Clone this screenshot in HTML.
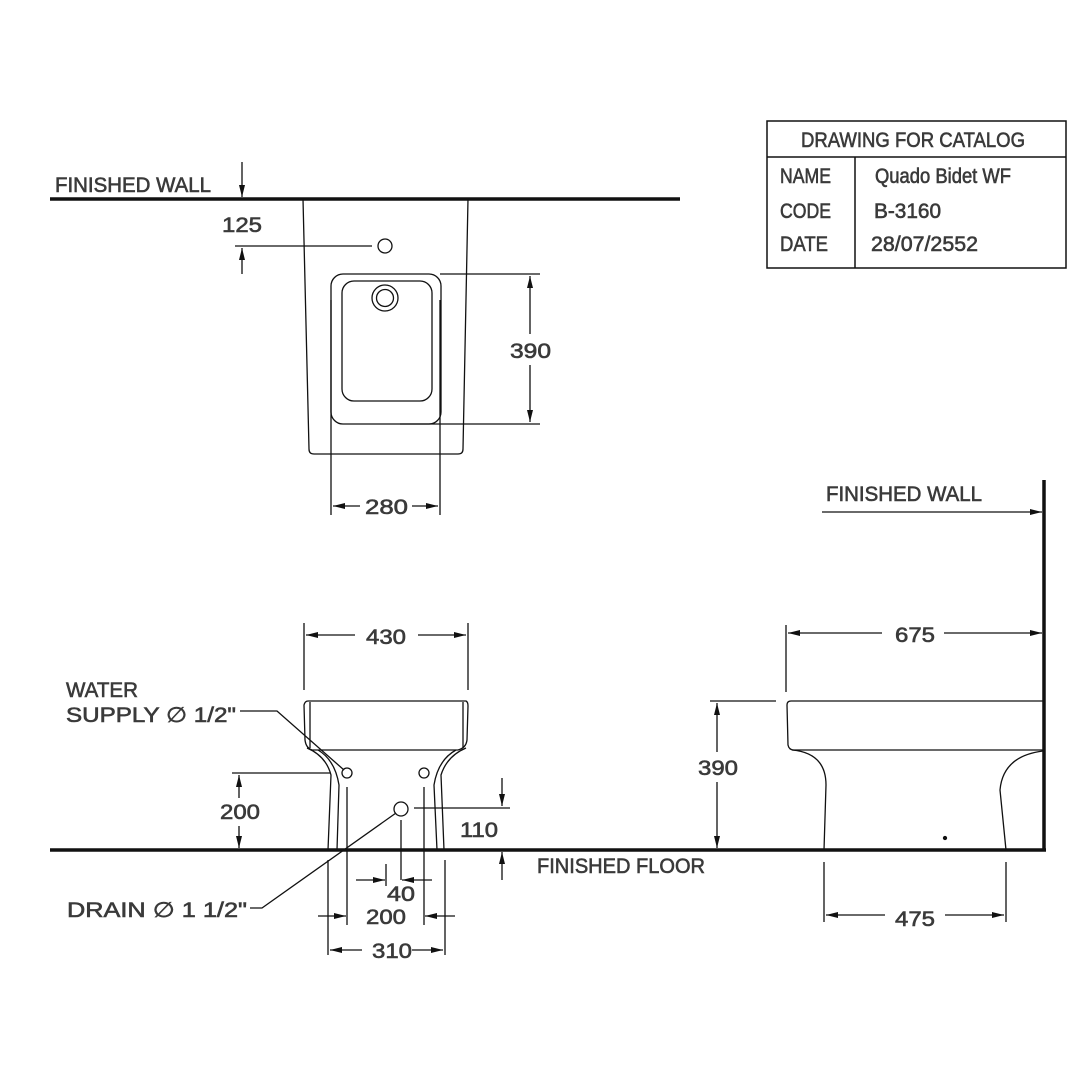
<!DOCTYPE html>
<html><head><meta charset="utf-8"><style>
html,body{margin:0;padding:0;background:#fff;}
svg{display:block;}
text{font-family:"Liberation Sans",sans-serif;font-size:21px;fill:#3a3a3a;stroke:#3a3a3a;stroke-width:0.6;}
</style></head><body>
<svg width="1090" height="1090" viewBox="0 0 1090 1090" xmlns="http://www.w3.org/2000/svg">
<defs>
<marker id="a" viewBox="0 0 12 6" refX="12" refY="3" markerWidth="12" markerHeight="6" markerUnits="userSpaceOnUse" orient="auto-start-reverse"><path d="M0,0 L12,3 L0,6 z" fill="#111"/></marker>
</defs>
<g stroke="#111" fill="none" stroke-width="1.3">
<line x1="50" y1="199" x2="680" y2="199" stroke-width="3.5"/>
<line x1="242" y1="162" x2="242" y2="197" marker-end="url(#a)"/>
<line x1="242" y1="274" x2="242" y2="248" marker-end="url(#a)"/>
<line x1="235" y1="246" x2="372" y2="246"/>
<circle cx="385" cy="246" r="7"/>
<path d="M303,199 L309,449 Q309,454 314,454 L458,454 Q463,454 463,449 L468,199"/>
<rect x="331" y="274" width="110" height="150" rx="12"/>
<rect x="342" y="281" width="90" height="120" rx="12"/>
<circle cx="385" cy="298" r="13"/>
<circle cx="385" cy="298" r="8.5"/>
<line x1="440" y1="274" x2="540" y2="274"/>
<line x1="400" y1="424" x2="540" y2="424"/>
<line x1="530" y1="334" x2="530" y2="276" marker-end="url(#a)"/>
<line x1="530" y1="365" x2="530" y2="422" marker-end="url(#a)"/>
<line x1="331" y1="300" x2="331" y2="515"/>
<line x1="440" y1="300" x2="440" y2="515"/>
<line x1="360" y1="506" x2="333" y2="506" marker-end="url(#a)"/>
<line x1="412" y1="506" x2="438" y2="506" marker-end="url(#a)"/>

<rect x="767" y="121" width="299" height="147" stroke-width="1.5"/>
<line x1="767" y1="157" x2="1066" y2="157" stroke-width="1.5"/>
<line x1="855" y1="157" x2="855" y2="268" stroke-width="1.5"/>

<line x1="50" y1="850" x2="1046" y2="850" stroke-width="3.5"/>
<line x1="1044" y1="480" x2="1044" y2="851" stroke-width="3.5"/>

<path d="M308,701 L466,701 Q468,702 468,706 L467,740 Q466,748 458,750 L312,750 Q306,748 305,740 L304,705 Q305,701 308,701 Z"/>
<line x1="310" y1="702" x2="310" y2="748"/>
<line x1="463" y1="702" x2="463" y2="748"/>
<path d="M307,748 Q326,756 331,775 L328,850"/>
<path d="M318,750 Q335,760 339,785 L337,850"/>
<path d="M466,748 Q447,756 441,775 L444,850"/>
<path d="M456,750 Q438,760 434,785 L437,850"/>
<circle cx="347" cy="773" r="5"/>
<circle cx="424" cy="773" r="5"/>
<circle cx="401" cy="809" r="7"/>
<line x1="304" y1="623" x2="304" y2="690"/>
<line x1="468" y1="623" x2="468" y2="690"/>
<line x1="355" y1="635" x2="306" y2="635" marker-end="url(#a)"/>
<line x1="418" y1="635" x2="466" y2="635" marker-end="url(#a)"/>
<line x1="232" y1="773" x2="330" y2="773"/>
<line x1="239" y1="798" x2="239" y2="775" marker-end="url(#a)"/>
<line x1="239" y1="826" x2="239" y2="848" marker-end="url(#a)"/>
<line x1="414" y1="808" x2="510" y2="808"/>
<line x1="502" y1="778" x2="502" y2="806" marker-end="url(#a)"/>
<line x1="502" y1="880" x2="502" y2="852" marker-end="url(#a)"/>
<line x1="347" y1="787" x2="347" y2="925"/>
<line x1="424" y1="787" x2="424" y2="925"/>
<line x1="401" y1="820" x2="401" y2="880"/>
<line x1="386" y1="864" x2="386" y2="886"/>
<line x1="356" y1="880" x2="385" y2="880" marker-end="url(#a)"/>
<line x1="432" y1="880" x2="402" y2="880" marker-end="url(#a)"/>
<line x1="318" y1="916" x2="346" y2="916" marker-end="url(#a)"/>
<line x1="455" y1="916" x2="425" y2="916" marker-end="url(#a)"/>
<line x1="328" y1="860" x2="328" y2="955"/>
<line x1="445" y1="860" x2="445" y2="955"/>
<line x1="362" y1="950" x2="330" y2="950" marker-end="url(#a)"/>
<line x1="412" y1="950" x2="443" y2="950" marker-end="url(#a)"/>
<polyline points="240,711 277,711 344,770"/>
<polyline points="250,908 262,908 396,813"/>

<line x1="822" y1="512" x2="1042" y2="512" marker-end="url(#a)"/>
<line x1="786" y1="625" x2="786" y2="692"/>
<line x1="882" y1="633" x2="788" y2="633" marker-end="url(#a)"/>
<line x1="944" y1="633" x2="1042" y2="633" marker-end="url(#a)"/>
<path d="M1043,701 L791,701 Q787,701 787,705 L788,745 Q789,750 794,750 L1043,750"/>
<path d="M792,750 Q826,753 826,785 L824,850"/>
<path d="M1043,751 Q1003,756 1000,790 L1006,850"/>
<circle cx="945" cy="838" r="1.5" fill="#111"/>
<line x1="710" y1="701" x2="776" y2="701"/>
<line x1="717" y1="752" x2="717" y2="703" marker-end="url(#a)"/>
<line x1="717" y1="782" x2="717" y2="848" marker-end="url(#a)"/>
<line x1="824" y1="862" x2="824" y2="922"/>
<line x1="1006" y1="862" x2="1006" y2="922"/>
<line x1="885" y1="915" x2="826" y2="915" marker-end="url(#a)"/>
<line x1="945" y1="915" x2="1004" y2="915" marker-end="url(#a)"/>
</g>

<text x="55" y="192" textLength="156" lengthAdjust="spacingAndGlyphs">FINISHED WALL</text>
<text x="222" y="232" textLength="40" lengthAdjust="spacingAndGlyphs">125</text>
<text x="510" y="358" textLength="41" lengthAdjust="spacingAndGlyphs">390</text>
<text x="365" y="514" textLength="43" lengthAdjust="spacingAndGlyphs">280</text>

<text x="801" y="147" textLength="224" lengthAdjust="spacingAndGlyphs">DRAWING FOR CATALOG</text>
<text x="780" y="183" textLength="51" lengthAdjust="spacingAndGlyphs">NAME</text>
<text x="875" y="183" textLength="136" lengthAdjust="spacingAndGlyphs">Quado Bidet WF</text>
<text x="780" y="218" textLength="51" lengthAdjust="spacingAndGlyphs">CODE</text>
<text x="874" y="218" textLength="67" lengthAdjust="spacingAndGlyphs">B-3160</text>
<text x="780" y="251" textLength="48" lengthAdjust="spacingAndGlyphs">DATE</text>
<text x="871" y="251" textLength="107" lengthAdjust="spacingAndGlyphs">28/07/2552</text>

<text x="366" y="644" textLength="40" lengthAdjust="spacingAndGlyphs">430</text>
<text x="66" y="697" textLength="72" lengthAdjust="spacingAndGlyphs">WATER</text>
<text x="66" y="722" textLength="170" lengthAdjust="spacingAndGlyphs">SUPPLY ∅  1/2"</text>
<text x="220" y="819" textLength="40" lengthAdjust="spacingAndGlyphs">200</text>
<text x="460" y="837" textLength="38" lengthAdjust="spacingAndGlyphs">110</text>
<text x="537" y="873" textLength="168" lengthAdjust="spacingAndGlyphs">FINISHED FLOOR</text>
<text x="67" y="917" textLength="180" lengthAdjust="spacingAndGlyphs">DRAIN ∅ 1  1/2"</text>
<text x="387" y="901" textLength="28" lengthAdjust="spacingAndGlyphs">40</text>
<text x="366" y="924" textLength="40" lengthAdjust="spacingAndGlyphs">200</text>
<text x="372" y="958" textLength="40" lengthAdjust="spacingAndGlyphs">310</text>

<text x="826" y="501" textLength="156" lengthAdjust="spacingAndGlyphs">FINISHED WALL</text>
<text x="895" y="642" textLength="40" lengthAdjust="spacingAndGlyphs">675</text>
<text x="698" y="775" textLength="40" lengthAdjust="spacingAndGlyphs">390</text>
<text x="895" y="926" textLength="40" lengthAdjust="spacingAndGlyphs">475</text>
</svg>
</body></html>
